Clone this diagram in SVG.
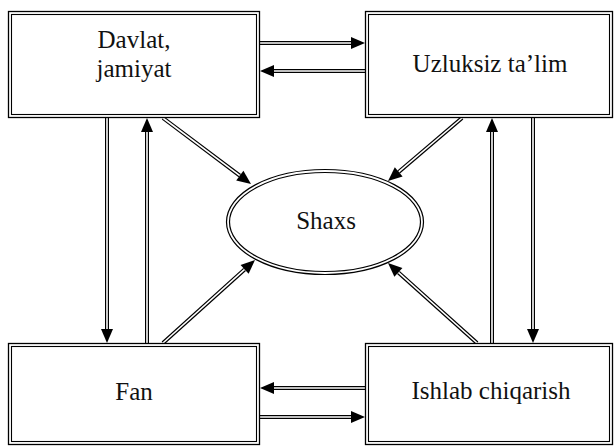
<svg xmlns="http://www.w3.org/2000/svg" width="615" height="446" viewBox="0 0 615 446">
<style>
.bo{fill:#fff;stroke:#000;stroke-width:1.3}
.bi{fill:none;stroke:#000;stroke-width:1.1}
.lo{fill:none;stroke:#000;stroke-width:4}
.li{fill:none;stroke:#fff;stroke-width:1.6;marker-end:url(#ah)}
.t{font-family:"Liberation Serif","Times New Roman",serif;font-size:25px;fill:#111;text-anchor:middle}
</style>
<defs>
<marker id="ah" markerUnits="userSpaceOnUse" markerWidth="14" markerHeight="12" refX="0" refY="6" orient="auto" overflow="visible">
<path d="M0,0 L14,6 L0,12 z" fill="#000"/>
</marker>
</defs>
<rect width="615" height="446" fill="#fff"/>
<g id="connectors">
<path class="lo" d="M260,43 L351,43"/><path class="li" d="M260,43 L351,43"/>
<path class="lo" d="M365,71 L274,71"/><path class="li" d="M365,71 L274,71"/>
<path class="lo" d="M365,388 L274,388"/><path class="li" d="M365,388 L274,388"/>
<path class="lo" d="M260,417 L351,417"/><path class="li" d="M260,417 L351,417"/>
<path class="lo" d="M107,118 L107,329"/><path class="li" d="M107,118 L107,329"/>
<path class="lo" d="M147,343 L147,132"/><path class="li" d="M147,343 L147,132"/>
<path class="lo" d="M492,343 L492,132"/><path class="li" d="M492,343 L492,132"/>
<path class="lo" d="M533,118 L533,329"/><path class="li" d="M533,118 L533,329"/>
<path class="lo" d="M163,118 L239.8,175.6"/><path class="li" d="M163,118 L239.8,175.6"/>
<path class="lo" d="M462,118 L398.7,171.9"/><path class="li" d="M462,118 L398.7,171.9"/>
<path class="lo" d="M163,343 L244.6,269.4"/><path class="li" d="M163,343 L244.6,269.4"/>
<path class="lo" d="M477,343 L398.4,272.4"/><path class="li" d="M477,343 L398.4,272.4"/>
</g>
<g id="davlat">
<rect class="bo" x="8.5" y="11.5" width="251" height="106"/>
<rect class="bi" x="11.5" y="14.5" width="245" height="100"/>
<text class="t" x="134" y="48">Davlat,</text>
<text class="t" x="134" y="77">jamiyat</text>
</g>
<g id="uzluksiz">
<rect class="bo" x="365.5" y="11.5" width="247" height="106"/>
<rect class="bi" x="368.5" y="14.5" width="241" height="100"/>
<text class="t" x="490" y="72">Uzluksiz ta’lim</text>
</g>
<g id="fan">
<rect class="bo" x="8.5" y="343.5" width="251" height="101"/>
<rect class="bi" x="11.5" y="346.5" width="245" height="95"/>
<text class="t" x="134" y="400">Fan</text>
</g>
<g id="ishlab">
<rect class="bo" x="365.5" y="343.5" width="247" height="101"/>
<rect class="bi" x="368.5" y="346.5" width="241" height="95"/>
<text class="t" x="491" y="399">Ishlab chiqarish</text>
</g>
<g id="shaxs">
<ellipse cx="325" cy="222" rx="97" ry="51" fill="#fff" stroke="#000" stroke-width="4.2"/>
<ellipse cx="325" cy="222" rx="97" ry="51" fill="none" stroke="#fff" stroke-width="1.8"/>
<text class="t" x="326" y="229">Shaxs</text>
</g>
</svg>
